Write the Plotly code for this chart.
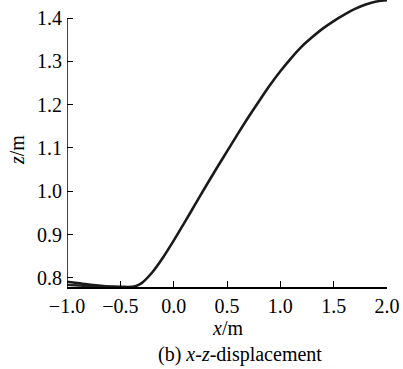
import plotly.graph_objects as go

# main trajectory (x, z)
x_main = [-1.0, -0.90, -0.78, -0.60, -0.44, -0.36, -0.30, -0.20, -0.10, 0.0, 0.1, 0.2, 0.3,
          0.4, 0.5, 0.6, 0.7, 0.8, 0.9, 1.0, 1.1, 1.2, 1.3, 1.4, 1.5, 1.6, 1.7, 1.8, 1.9, 2.0]
z_main = [0.791, 0.788, 0.784, 0.780, 0.779, 0.781, 0.788, 0.813, 0.847, 0.886, 0.927, 0.969,
          1.011, 1.052, 1.092, 1.132, 1.171, 1.208, 1.244, 1.277, 1.307, 1.334, 1.356, 1.376,
          1.393, 1.408, 1.421, 1.431, 1.438, 1.441]
# second overlapping branch near the start
x_branch = [-1.0, -0.85, -0.70, -0.55, -0.44]
z_branch = [0.784, 0.782, 0.780, 0.779, 0.779]

x_ticks = [-1.0, -0.5, 0.0, 0.5, 1.0, 1.5, 2.0]
y_ticks = [0.8, 0.9, 1.0, 1.1, 1.2, 1.3, 1.4]
x_labels = ["\u22121.0", "\u22120.5", "0.0", "0.5", "1.0", "1.5", "2.0"]
y_labels = ["0.8", "0.9", "1.0", "1.1", "1.2", "1.3", "1.4"]

X_RANGE = [-1.0, 2.0]
Y_RANGE = [0.779, 1.4416]

FONT = "Liberation Serif"
FS = 20

fig = go.Figure()
fig.add_trace(go.Scatter(x=x_branch, y=z_branch, mode="lines",
                         line=dict(color="#222", width=2.4, shape="spline"),
                         showlegend=False, cliponaxis=False))
fig.add_trace(go.Scatter(x=x_main, y=z_main, mode="lines",
                         line=dict(color="#1a1a1a", width=2.6, shape="spline"),
                         showlegend=False, cliponaxis=False))

fig.update_layout(
    width=403, height=369,
    margin=dict(l=67, r=16, t=0, b=82),
    paper_bgcolor="white", plot_bgcolor="white",
    font=dict(family=FONT, size=FS, color="black"),
    xaxis=dict(range=X_RANGE, tickvals=x_ticks, ticktext=x_labels,
               ticks="inside", ticklen=6, tickwidth=1.3, tickcolor="black",
               showline=True, linecolor="black", linewidth=1.5,
               showgrid=False, zeroline=False, ticklabelstandoff=0,
               tickfont=dict(family=FONT, size=FS)),
    yaxis=dict(range=Y_RANGE, tickvals=y_ticks, ticktext=y_labels,
               ticks="inside", ticklen=6, tickwidth=1.3, tickcolor="black",
               showline=False, showgrid=False, zeroline=False, ticklabelstandoff=4,
               tickfont=dict(family=FONT, size=FS)),
    shapes=[dict(type="line", xref="x", yref="y", x0=-1.0, x1=-1.0,
                 y0=Y_RANGE[0], y1=1.4, line=dict(color="black", width=1.5))],
    annotations=[
        dict(text="<i>x</i>/m", xref="paper", yref="paper", x=0.5, y=(287 - 328) / 287,
             xanchor="center", yanchor="middle", showarrow=False,
             font=dict(family=FONT, size=FS)),
        dict(text="(b) <i>x</i>-<i>z</i>-displacement", xref="paper", yref="paper",
             x=(240 - 67) / 320, y=(287 - 354) / 287,
             xanchor="center", yanchor="middle", showarrow=False,
             font=dict(family=FONT, size=FS)),
        dict(text="<i>z</i>/m", xref="paper", yref="paper", x=(17 - 67) / 320,
             y=(287 - 150) / 287, xanchor="center", yanchor="middle",
             showarrow=False, textangle=-90, font=dict(family=FONT, size=FS)),
    ],
)

fig.write_html("out.html")
